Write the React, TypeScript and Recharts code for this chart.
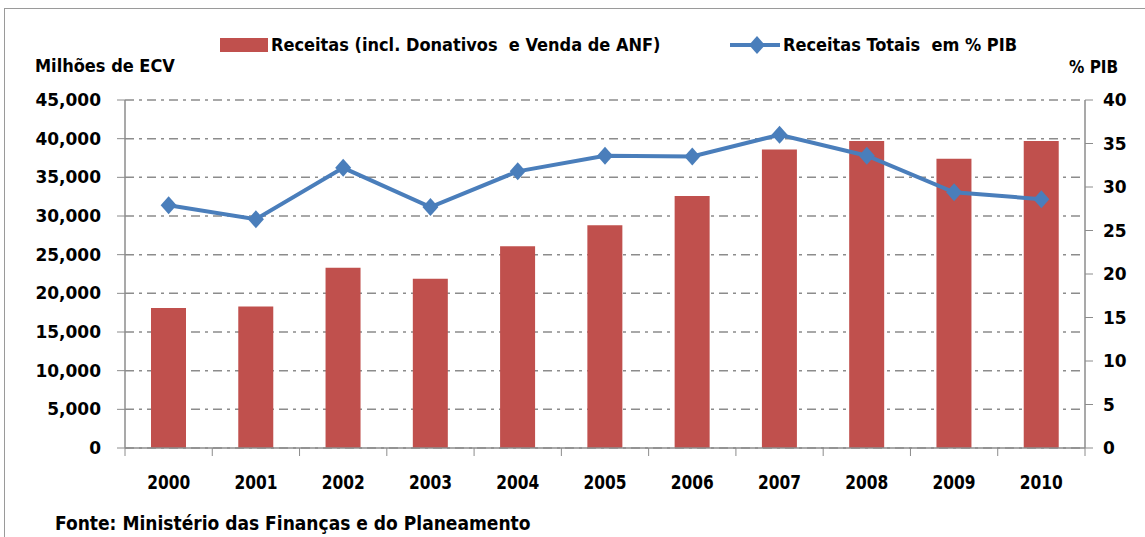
import { Bar, CartesianGrid, ComposedChart, Line, XAxis, YAxis } from 'recharts';

const years = ['2000', '2001', '2002', '2003', '2004', '2005', '2006', '2007', '2008', '2009', '2010'];
const receitas = [18100, 18300, 23300, 21900, 26100, 28800, 32600, 38600, 39700, 37400, 39700];
const receitasPctPib = [27.9, 26.3, 32.2, 27.7, 31.8, 33.6, 33.5, 36.0, 33.6, 29.4, 28.6];
const leftTicks = [0, 5000, 10000, 15000, 20000, 25000, 30000, 35000, 40000, 45000];
const rightTicks = [0, 5, 10, 15, 20, 25, 30, 35, 40];

const data = years.map((year, i) => ({
  year,
  receitas: receitas[i],
  pct: receitasPctPib[i],
}));

const RED = '#C0504D';
const BLUE = '#4A7EBB';
const AXIS = '#8c8c8c';
const NARROW = '"Liberation Sans Narrow", "DejaVu Sans Condensed", Arial, sans-serif';
const WIDE = '"DejaVu Sans", Verdana, sans-serif';
const BAND = 960 / years.length;

function Diamond(props: any) {
  const { cx, cy, index } = props;
  if (cx == null || cy == null) return <g key={index} />;
  return (
    <path
      key={index}
      d={`M${cx},${cy - 9} L${cx + 8},${cy} L${cx},${cy + 9} L${cx - 8},${cy} Z`}
      fill={BLUE}
    />
  );
}

function YearTick(props: any) {
  const { x, y, payload, index } = props;
  const top = y - 8;
  return (
    <g>
      <line x1={x - BAND / 2} x2={x - BAND / 2} y1={top} y2={top + 8} stroke={AXIS} />
      {index === years.length - 1 && (
        <line x1={x + BAND / 2} x2={x + BAND / 2} y1={top} y2={top + 8} stroke={AXIS} />
      )}
      <text
        x={x}
        y={top + 41}
        textAnchor="middle"
        fontFamily={NARROW}
        fontWeight="bold"
        fontSize={20}
        textLength={43}
        lengthAdjust="spacingAndGlyphs"
        fill="#000"
      >
        {payload.value}
      </text>
    </g>
  );
}

function ChartLegend() {
  return (
    <div
      style={{
        position: 'absolute',
        top: 34,
        left: 0,
        width: 1145,
        fontFamily: NARROW,
        fontWeight: 'bold',
        fontSize: 18,
      }}
    >
      <div style={{ position: 'absolute', left: 220, top: 4, width: 48, height: 14, background: RED }} />
      <span style={{ position: 'absolute', left: 271, top: 0, whiteSpace: 'nowrap' }}>
        Receitas (incl. Donativos&nbsp; e Venda de ANF)
      </span>
      <svg style={{ position: 'absolute', left: 728, top: 0 }} width={54} height={22}>
        <line x1={2} x2={52} y1={11} y2={11} stroke={BLUE} strokeWidth={4} />
        <path d="M29,2 L37,11 L29,20 L21,11 Z" fill={BLUE} />
      </svg>
      <span style={{ position: 'absolute', left: 783, top: 0, whiteSpace: 'nowrap' }}>
        Receitas Totais&nbsp; em % PIB
      </span>
    </div>
  );
}

export default function App() {
  return (
    <div
      style={{
        position: 'absolute',
        left: 0,
        top: 0,
        width: 1145,
        height: 537,
        overflow: 'hidden',
        background: '#fff',
      }}
    >
      <div
        style={{
          position: 'absolute',
          left: 4,
          top: 8,
          width: 1200,
          height: 600,
          border: '1px solid #9a9a9a',
        }}
      />
      <ChartLegend />
      <div
        style={{
          position: 'absolute',
          left: 35,
          top: 55,
          fontFamily: NARROW,
          fontWeight: 'bold',
          fontSize: 18,
          whiteSpace: 'nowrap',
        }}
      >
        Milhões de ECV
      </div>
      <div
        style={{
          position: 'absolute',
          left: 1069,
          top: 57,
          fontFamily: NARROW,
          fontWeight: 'bold',
          fontSize: 17,
          whiteSpace: 'nowrap',
        }}
      >
        % PIB
      </div>
      <div style={{ position: 'absolute', left: 0, top: 0 }}>
        <ComposedChart
          width={1145}
          height={537}
          data={data}
          margin={{ top: 100, right: 0, bottom: 0, left: 0 }}
        >
          <CartesianGrid
            yAxisId="left"
            vertical={false}
            stroke={AXIS}
            strokeWidth={1.5}
            strokeDasharray="9 5 3 5"
          />
          <XAxis
            dataKey="year"
            tickLine={false}
            tickSize={8}
            tickMargin={0}
            axisLine={{ stroke: AXIS, strokeWidth: 1.5 }}
            tick={<YearTick />}
            interval={0}
            height={89}
          />
          <YAxis
            yAxisId="left"
            width={125}
            domain={[0, 45000]}
            ticks={leftTicks}
            interval={0}
            tickFormatter={(v: number) => v.toLocaleString('en-US')}
            tickSize={8}
            tickMargin={16}
            tickLine={{ stroke: AXIS }}
            axisLine={{ stroke: AXIS, strokeWidth: 1.5 }}
            tick={{ fontFamily: WIDE, fontWeight: 'bold', fontSize: 17, fill: '#000' }}
          />
          <YAxis
            yAxisId="right"
            orientation="right"
            width={60}
            domain={[0, 40]}
            ticks={rightTicks}
            interval={0}
            tickSize={8}
            tickMargin={10}
            tickLine={{ stroke: AXIS }}
            axisLine={{ stroke: AXIS, strokeWidth: 1.5 }}
            tick={{ fontFamily: WIDE, fontWeight: 'bold', fontSize: 17, fill: '#000' }}
          />
          <Bar yAxisId="left" dataKey="receitas" fill={RED} barSize={35} isAnimationActive={false} />
          <Line
            yAxisId="right"
            dataKey="pct"
            stroke={BLUE}
            strokeWidth={4}
            dot={<Diamond />}
            activeDot={false}
            isAnimationActive={false}
          />
        </ComposedChart>
      </div>
      <div
        style={{
          position: 'absolute',
          left: 55,
          top: 512,
          fontFamily: NARROW,
          fontWeight: 'bold',
          fontSize: 19,
          whiteSpace: 'nowrap',
        }}
      >
        Fonte: Ministério das Finanças e do Planeamento
      </div>
    </div>
  );
}
